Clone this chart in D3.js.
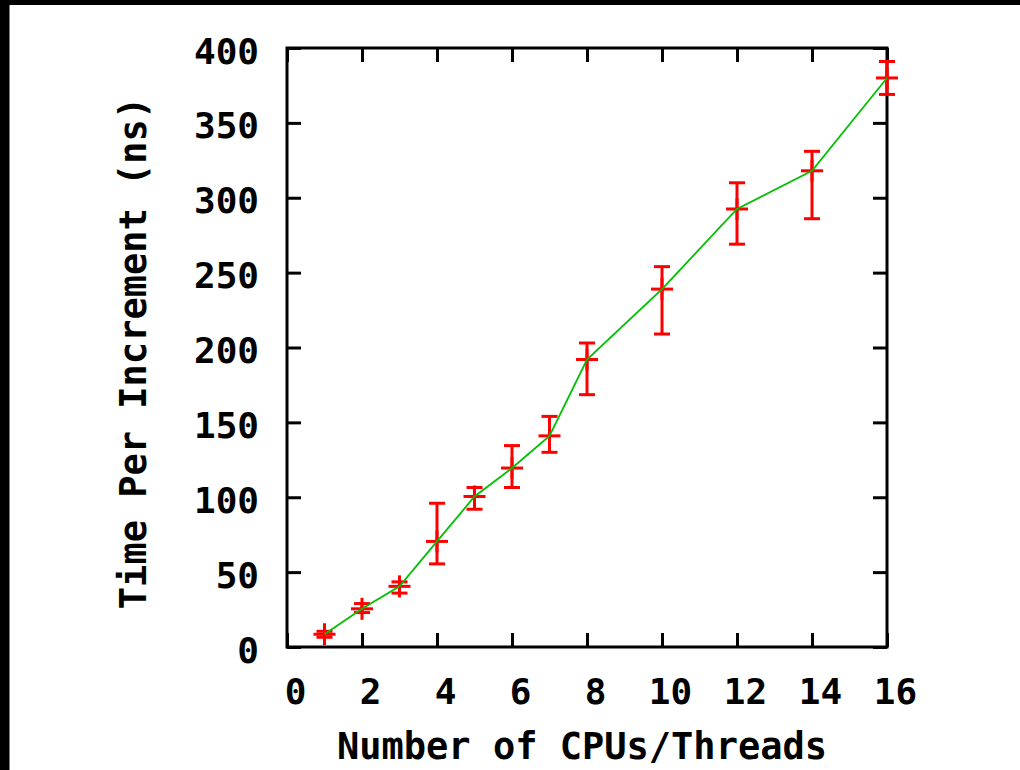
<!DOCTYPE html>
<html>
<head>
<meta charset="utf-8">
<script src="https://cdn.jsdelivr.net/npm/d3@7"></script>
<style>
  body { margin: 0; background: #fff; }
  text { font-family: "DejaVu Sans Mono", monospace; font-weight: bold; }
</style>
</head>
<body>
<script>
// cpus/threads and time per increment (ns), with error range
var cpus   = [1, 2, 3, 4, 5, 6, 7, 8, 10, 12, 14, 16];
var timeNs = [8.5, 25.5, 40.5, 70.5, 100.5, 119.5, 141, 192, 239, 292.5, 318, 380];
var lowNs  = [6.5, 23, 36, 55.5, 92, 106.5, 130, 168.5, 209, 269, 286, 369];
var highNs = [10.5, 29, 43.5, 96, 106.5, 134.5, 154, 203, 254, 310, 331, 391];
var xTicks = [0, 2, 4, 6, 8, 10, 12, 14, 16];
var yTicks = [0, 50, 100, 150, 200, 250, 300, 350, 400];

var w = 1020, h = 770;
var svg = d3.select("body").append("svg")
  .attr("width", w)
  .attr("height", h);

svg.append("rect").attr("width", w).attr("height", h).attr("fill", "#fff");
// black edges at top and left
svg.append("rect").attr("x", 0).attr("y", 0).attr("width", w).attr("height", 5).attr("fill", "#000");
svg.append("rect").attr("x", 0).attr("y", 0).attr("width", 9.5).attr("height", h).attr("fill", "#000");

var x = d3.scaleLinear().domain([0, 16]).range([287, 887]);
var y = d3.scaleLinear().domain([0, 400]).range([647, 48]);

var data = cpus.map(function(c, i){
  return {x: c, y: timeNs[i], lo: lowNs[i], hi: highNs[i]};
});

function styleAxis(g){
  g.select(".domain").remove();
  g.selectAll(".tick line").attr("stroke", "#000").attr("stroke-width", 3);
  g.selectAll("text").attr("font-size", 36).attr("fill", "#000")
    .attr("font-family", "DejaVu Sans Mono").attr("font-weight", "bold");
}

// bottom axis with labels
var gx = svg.append("g").attr("transform", "translate(0,647)")
  .call(d3.axisBottom(x).tickValues(xTicks).tickSizeInner(-14).tickSizeOuter(0));
styleAxis(gx);
gx.selectAll("text").attr("y", 57).attr("dy", null).attr("x", 8);

// left axis with labels
var gy = svg.append("g").attr("transform", "translate(287,0)")
  .call(d3.axisLeft(y).tickValues(yTicks).tickSizeInner(-14).tickSizeOuter(0));
styleAxis(gy);
gy.selectAll("text").attr("x", -28).attr("dy", null).attr("y", 15);

// mirrored ticks
var gt = svg.append("g").attr("transform", "translate(0,48)")
  .call(d3.axisTop(x).tickValues(xTicks).tickSizeInner(-14).tickSizeOuter(0).tickFormat(""));
styleAxis(gt);
var gr = svg.append("g").attr("transform", "translate(887,0)")
  .call(d3.axisRight(y).tickValues(yTicks).tickSizeInner(-14).tickSizeOuter(0).tickFormat(""));
styleAxis(gr);

// frame
svg.append("rect")
  .attr("x", x(0)).attr("y", y(400))
  .attr("width", x(16) - x(0)).attr("height", y(0) - y(400))
  .attr("fill", "none").attr("stroke", "#000").attr("stroke-width", 3);

// error bars, red
var red = "#ff0000";
var eb = svg.append("g").attr("stroke", red).attr("stroke-width", 3);
var pts = eb.selectAll("g").data(data).enter().append("g");
pts.append("line")
  .attr("x1", function(d){ return x(d.x); }).attr("x2", function(d){ return x(d.x); })
  .attr("y1", function(d){ return y(d.lo); }).attr("y2", function(d){ return y(d.hi); });
pts.append("line")
  .attr("x1", function(d){ return x(d.x) - 8; }).attr("x2", function(d){ return x(d.x) + 8; })
  .attr("y1", function(d){ return y(d.lo); }).attr("y2", function(d){ return y(d.lo); });
pts.append("line")
  .attr("x1", function(d){ return x(d.x) - 8; }).attr("x2", function(d){ return x(d.x) + 8; })
  .attr("y1", function(d){ return y(d.hi); }).attr("y2", function(d){ return y(d.hi); });
// plus marker
pts.append("line")
  .attr("x1", function(d){ return x(d.x) - 11; }).attr("x2", function(d){ return x(d.x) + 11; })
  .attr("y1", function(d){ return y(d.y); }).attr("y2", function(d){ return y(d.y); });
pts.append("line")
  .attr("x1", function(d){ return x(d.x); }).attr("x2", function(d){ return x(d.x); })
  .attr("y1", function(d){ return y(d.y) - 11; }).attr("y2", function(d){ return y(d.y) + 11; });

// green line on top
var line = d3.line().x(function(d){ return x(d.x); }).y(function(d){ return y(d.y); });
svg.append("path").datum(data)
  .attr("d", line)
  .attr("fill", "none")
  .attr("stroke", "#00c000")
  .attr("stroke-width", 1.8);

// axis titles
svg.append("text")
  .attr("x", 582).attr("y", 759)
  .attr("text-anchor", "middle")
  .attr("font-size", 37)
  .text("Number of CPUs/Threads");

svg.append("text")
  .attr("transform", "translate(146,353) rotate(-90)")
  .attr("text-anchor", "middle")
  .attr("font-size", 37)
  .text("Time Per Increment (ns)");
</script>
</body>
</html>
